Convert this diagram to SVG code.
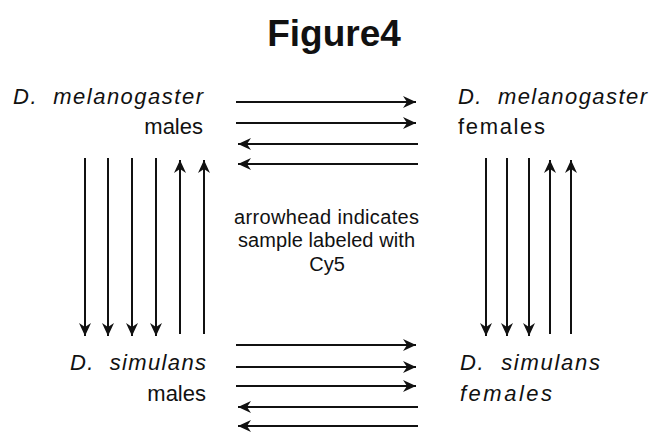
<svg xmlns="http://www.w3.org/2000/svg" width="651" height="432" viewBox="0 0 651 432">
<style>
text{font-family:"Liberation Sans",Arial,sans-serif;fill:#111}
.t{font-size:37px;font-weight:bold}
.lab{font-size:22px}
.it{font-style:italic}
.c{font-size:20px}
.ln{stroke:#111;stroke-width:2;fill:none;marker-end:url(#ah)}
</style>
<defs>
<marker id="ah" markerUnits="userSpaceOnUse" markerWidth="16" markerHeight="16" viewBox="-14 -8 16 16" refX="0" refY="0" orient="auto">
<path d="M0,0 L-13,-6 L-9,0 L-13,6 Z" fill="#111"/>
</marker>
</defs>
<rect width="651" height="432" fill="#fff"/>
<g id="title"><text class="t" x="334" y="46" text-anchor="middle">Figure4</text></g>
<g id="mel-males">
<text class="lab it" x="13" y="104" textLength="190" lengthAdjust="spacing" xml:space="preserve">D.  melanogaster</text>
<text class="lab" x="203" y="134" text-anchor="end">males</text>
</g>
<g id="mel-females">
<text class="lab it" x="458" y="104" textLength="189" lengthAdjust="spacing" xml:space="preserve">D.  melanogaster</text>
<text class="lab" x="458" y="134" textLength="87" lengthAdjust="spacing">females</text>
</g>
<g id="sim-males">
<text class="lab it" x="70" y="370" textLength="136" lengthAdjust="spacing" xml:space="preserve">D.  simulans</text>
<text class="lab" x="206" y="401" text-anchor="end">males</text>
</g>
<g id="sim-females">
<text class="lab it" x="460" y="370" textLength="140" lengthAdjust="spacing" xml:space="preserve">D.  simulans</text>
<text class="lab it" x="460" y="401" textLength="92" lengthAdjust="spacing">females</text>
</g>
<g id="note">
<text class="c" x="234" y="224" textLength="185" lengthAdjust="spacing">arrowhead indicates</text>
<text class="c" x="238" y="247" textLength="177" lengthAdjust="spacing">sample labeled with</text>
<text class="c" x="327" y="271" text-anchor="middle">Cy5</text>
</g>
<g id="connectors">
<line class="ln" x1="236" y1="102" x2="416" y2="102"/>
<line class="ln" x1="236" y1="123" x2="416" y2="123"/>
<line class="ln" x1="418" y1="144" x2="238" y2="144"/>
<line class="ln" x1="418" y1="164" x2="238" y2="164"/>
<line class="ln" x1="236" y1="345" x2="416" y2="345"/>
<line class="ln" x1="236" y1="367" x2="416" y2="367"/>
<line class="ln" x1="236" y1="386" x2="416" y2="386"/>
<line class="ln" x1="418" y1="407" x2="238" y2="407"/>
<line class="ln" x1="418" y1="426" x2="238" y2="426"/>
<line class="ln" x1="85" y1="158" x2="85" y2="336"/>
<line class="ln" x1="108" y1="158" x2="108" y2="336"/>
<line class="ln" x1="132" y1="158" x2="132" y2="336"/>
<line class="ln" x1="156" y1="158" x2="156" y2="336"/>
<line class="ln" x1="180" y1="334" x2="180" y2="160"/>
<line class="ln" x1="204" y1="334" x2="204" y2="160"/>
<line class="ln" x1="486" y1="158" x2="486" y2="336"/>
<line class="ln" x1="507" y1="158" x2="507" y2="336"/>
<line class="ln" x1="529" y1="158" x2="529" y2="336"/>
<line class="ln" x1="550" y1="334" x2="550" y2="160"/>
<line class="ln" x1="571" y1="334" x2="571" y2="160"/>
</g>
</svg>
